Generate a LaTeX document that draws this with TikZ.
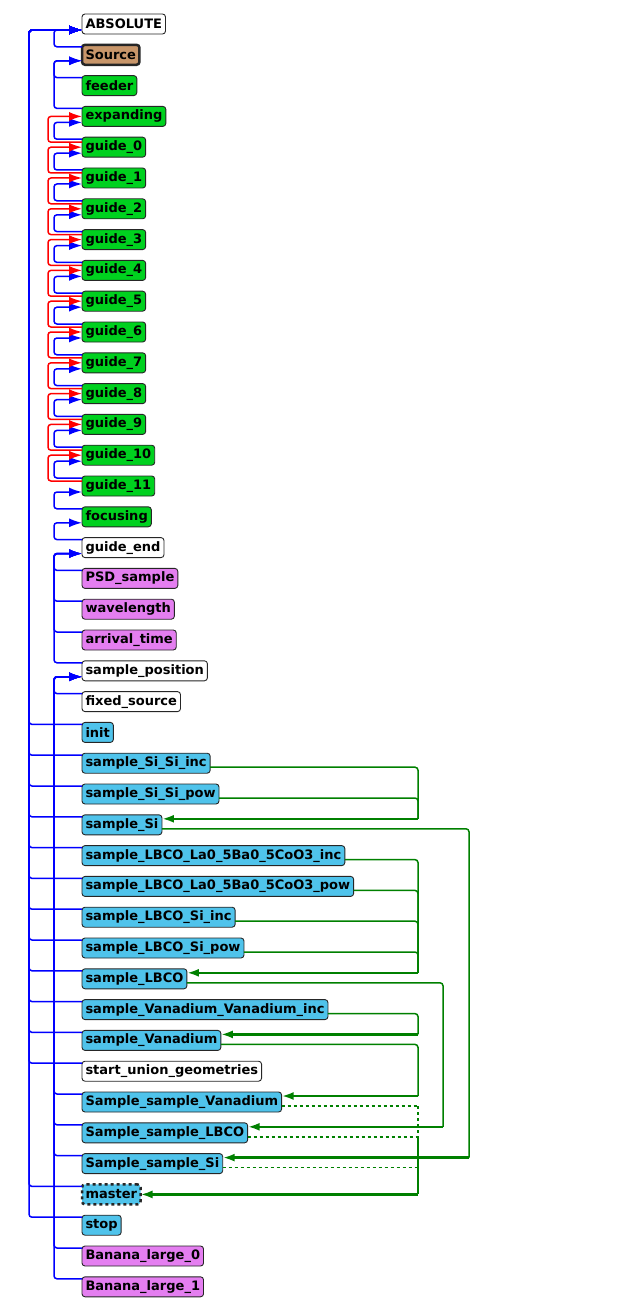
\documentclass[tikz,border=0pt]{standalone}
\usepackage{fontspec}
\setmainfont{DejaVu Sans}
\usetikzlibrary{arrows.meta,calc}
\definecolor{grnbox}{HTML}{00D11F}
\definecolor{cyanbox}{HTML}{4FC3EB}
\definecolor{vioBox}{HTML}{E47EF0}
\definecolor{srcbox}{HTML}{C8966A}
\definecolor{grnline}{HTML}{008000}
\tikzset{
  comp/.style={draw=black!85,rounded corners=3pt,anchor=west,inner sep=3.5pt,
    minimum height=20pt,outer sep=0pt,font=\fontsize{13}{15}\selectfont\bfseries,line width=0.9pt},
  wbox/.style={comp,fill=white},
  gbox/.style={comp,fill=grnbox},
  cbox/.style={comp,fill=cyanbox},
  vbox/.style={comp,fill=vioBox},
  sbox/.style={comp,fill=srcbox,line width=2.5pt},
  mbox/.style={comp,fill=cyanbox,line width=2.5pt,dashed},
  bl/.style={blue,line width=1.5pt,rounded corners=3pt,-{Latex[length=13pt,width=9pt]}},
  rd/.style={red,line width=1.5pt,rounded corners=3pt,-{Latex[length=13pt,width=9pt]}},
  gr/.style={grnline,line width=1.5pt,rounded corners=3pt},
  grarr/.style={grnline,line width=2.5pt,-{Latex[length=12pt,width=8pt]}}
}
\begin{document}
\begin{tikzpicture}[x=1pt,y=-1pt]
\useasboundingbox (0,0) rectangle (639,1313);
% components
\foreach \lab/\sty [count=\i from 0] in {ABSOLUTE/wbox,Source/sbox,feeder/gbox,expanding/gbox,
  guide\_0/gbox,guide\_1/gbox,guide\_2/gbox,guide\_3/gbox,guide\_4/gbox,guide\_5/gbox,
  guide\_6/gbox,guide\_7/gbox,guide\_8/gbox,guide\_9/gbox,guide\_10/gbox,guide\_11/gbox,
  focusing/gbox,guide\_end/wbox,PSD\_sample/vbox,wavelength/vbox,arrival\_time/vbox,
  sample\_position/wbox,fixed\_source/wbox,init/cbox,sample\_Si\_Si\_inc/cbox,
  sample\_Si\_Si\_pow/cbox,sample\_Si/cbox,sample\_LBCO\_La0\_5Ba0\_5CoO3\_inc/cbox,
  sample\_LBCO\_La0\_5Ba0\_5CoO3\_pow/cbox,sample\_LBCO\_Si\_inc/cbox,sample\_LBCO\_Si\_pow/cbox,
  sample\_LBCO/cbox,sample\_Vanadium\_Vanadium\_inc/cbox,sample\_Vanadium/cbox,
  start\_union\_geometries/wbox,Sample\_sample\_Vanadium/cbox,Sample\_sample\_LBCO/cbox,
  Sample\_sample\_Si/cbox,master/mbox,stop/cbox,Banana\_large\_0/vbox,Banana\_large\_1/vbox}
  \node[\sty] (n\i) at (82,{24+30.8*\i}) {\lab};
% buses for the union parts
\coordinate (busA) at (418,0);
\coordinate (busB) at (443,0);
\coordinate (busC) at (469,0);
% relative to the previous component
\foreach \c/\p in {1/0,2/1,3/1,4/3,5/4,6/5,7/6,8/7,9/8,10/9,11/10,12/11,13/12,14/13,15/14,
  16/15,17/16,18/17,19/17,20/17,21/17,22/21,35/21,36/21,37/21,40/21,41/21}
  \draw[bl] ([yshift=8pt]n\c.west) -- ++(-28,0) |- ([yshift=-6pt]n\p.west);
\foreach \c in {4,...,15}
  \draw[rd] ([yshift=5pt]n\c.west) -- ++(-34,0) |- (n\the\numexpr\c-1\relax.west);
% relative to ABSOLUTE
\foreach \c in {23,...,34,38,39}
  \draw[bl] ([yshift=8pt]n\c.west) -- ++(-53,0) |- ([yshift=-6pt]n0.west);
% union parts
\foreach \c/\p/\b in {24/26/busA,25/26/busA,27/31/busA,28/31/busA,29/31/busA,30/31/busA,
  32/33/busA,33/35/busA,31/36/busB,26/37/busC}
  \draw[gr] ([yshift=-4pt]n\c.east) -- ([yshift=-4pt]n\c.east -| \b) |- ([yshift=6pt]n\p.east -| \b);
\foreach \p/\b in {26/busA,31/busA,33/busA,35/busA,36/busB,37/busC}
  \draw[grarr] ([yshift=6pt]n\p.east -| \b) -- ([yshift=6pt]n\p.east);
\foreach \c in {35,36,37}
  \draw[gr,dashed] ([yshift=-4pt]n\c.east) -- ([yshift=-4pt]n\c.east -| busA);
\draw[gr,dashed] ([yshift=-4pt]n35.east -| busA) -- ([yshift=-4pt]n36.east -| busA);
\draw[gr] ([yshift=-4pt]n36.east -| busA) |- ([yshift=0pt]n38.east -| busA);
\draw[grarr] (n38.east -| busA) -- (n38.east);
\end{tikzpicture}
\end{document}
